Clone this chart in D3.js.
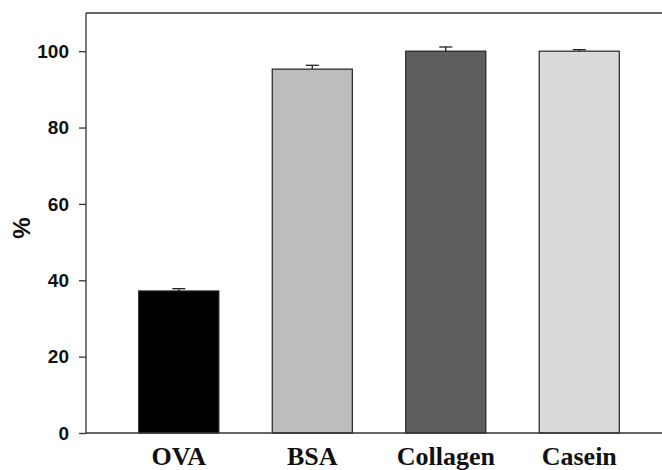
<!DOCTYPE html>
<html>
<head>
<meta charset="utf-8">
<script src="https://cdn.jsdelivr.net/npm/d3@7"></script>
<style>
  html, body { margin: 0; padding: 0; background: #fff; }
  svg { display: block; }
</style>
</head>
<body>
<svg id="chart" width="662" height="470"></svg>
<script>
// Protein categories, mean percentages and upper error (SD)
const categories = ["OVA", "BSA", "Collagen", "Casein"];
const values = [37.2, 95.3, 100.0, 100.0];
const errors = [0.6, 1.0, 1.1, 0.4];
const barColors = ["#000000", "#bdbdbd", "#5e5e5e", "#dadada"];
const yTicks = [0, 20, 40, 60, 80, 100];

const svg = d3.select("#chart");
const plotLeft = 86, plotRight = 668, plotTop = 13, plotBottom = 433;

const x = d3.scaleBand()
  .domain(categories)
  .range([plotLeft, plotRight])
  .paddingInner(0.4)
  .paddingOuter(0.38)
  .align(0.52);

const y = d3.scaleLinear().domain([0, 110]).range([plotBottom, plotTop]);

// Bars
svg.append("g").selectAll("rect")
  .data(categories)
  .join("rect")
  .attr("x", d => x(d))
  .attr("y", (d, i) => y(values[i]))
  .attr("width", x.bandwidth())
  .attr("height", (d, i) => y(0) - y(values[i]))
  .attr("fill", (d, i) => barColors[i])
  .attr("stroke", "#222")
  .attr("stroke-width", 1.2);

// Upper error bars
const eg = svg.append("g").attr("stroke", "#222").attr("stroke-width", 1.3);
categories.forEach((c, i) => {
  const cx = x(c) + x.bandwidth() / 2;
  eg.append("line")
    .attr("x1", cx).attr("x2", cx)
    .attr("y1", y(values[i])).attr("y2", y(values[i] + errors[i]));
  eg.append("line")
    .attr("x1", cx - 6.5).attr("x2", cx + 6.5)
    .attr("y1", y(values[i] + errors[i])).attr("y2", y(values[i] + errors[i]));
});

// Frame: top border
svg.append("line")
  .attr("x1", plotLeft).attr("x2", plotRight)
  .attr("y1", plotTop).attr("y2", plotTop)
  .attr("stroke", "#333").attr("stroke-width", 1.3);

// Y axis
const yAxis = svg.append("g")
  .attr("transform", `translate(${plotLeft},0)`)
  .call(d3.axisLeft(y).tickValues(yTicks).tickSize(7).tickPadding(10).tickSizeOuter(0));
yAxis.select(".domain").attr("stroke", "#333").attr("stroke-width", 1.3)
  .attr("d", `M0,${plotTop}V${plotBottom}`);
yAxis.selectAll(".tick line").attr("stroke", "#333").attr("stroke-width", 1.3);
yAxis.selectAll(".tick text")
  .attr("font-family", "Liberation Sans, Arial, sans-serif")
  .attr("font-weight", "bold")
  .attr("font-size", 19)
  .attr("fill", "#111");

// X axis
const xAxis = svg.append("g")
  .attr("transform", `translate(0,${plotBottom})`)
  .call(d3.axisBottom(x).tickSize(0).tickPadding(14).tickSizeOuter(0));
xAxis.select(".domain").attr("stroke", "#333").attr("stroke-width", 1.3)
  .attr("d", `M${plotLeft},0H${plotRight}`);
xAxis.selectAll(".tick text")
  .attr("font-family", "Liberation Serif, Times New Roman, serif")
  .attr("font-weight", "bold")
  .attr("font-size", 26)
  .attr("fill", "#111");

// Y axis title
svg.append("text")
  .attr("transform", "translate(30,228) rotate(-90)")
  .attr("text-anchor", "middle")
  .attr("font-family", "Liberation Sans, Arial, sans-serif")
  .attr("font-weight", "bold")
  .attr("font-size", 24)
  .attr("fill", "#111")
  .text("%");
</script>
</body>
</html>
